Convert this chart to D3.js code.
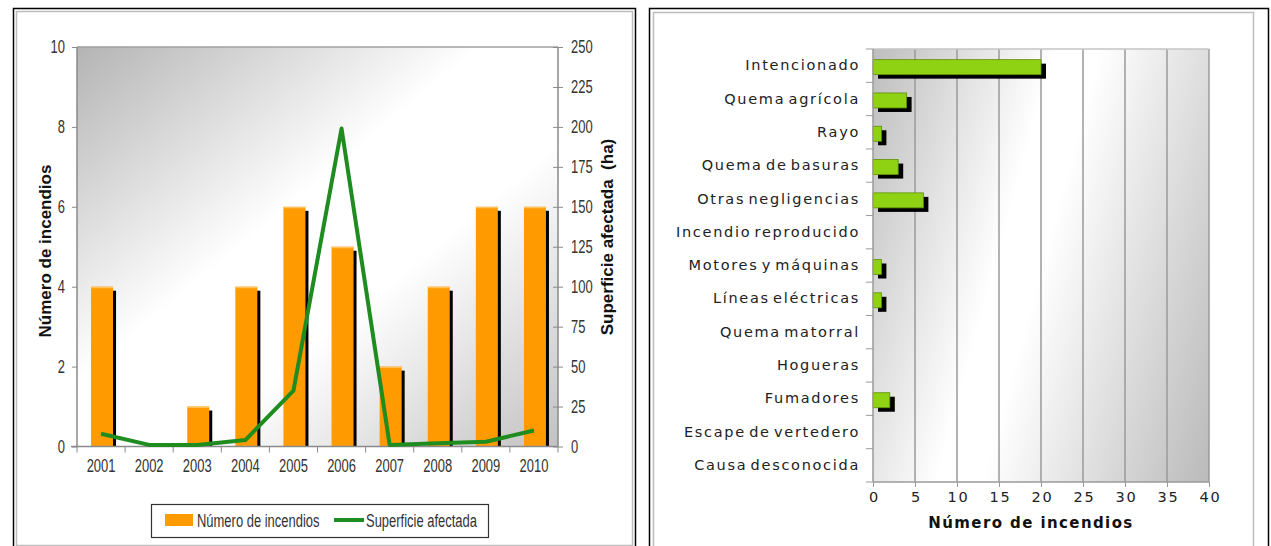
<!DOCTYPE html>
<meta charset="utf-8">
<style>
body { margin: 0; background: #fff; }
svg { display: block; }
.narrow { font-family: "Liberation Sans", Arial, sans-serif; }
.wide { font-family: "DejaVu Sans", Verdana, sans-serif; }
</style>
<svg width="1271" height="546"></svg>
<script src="https://d3js.org/d3.v7.min.js"></script>
<script>

// left chart data
var years = ["2001", "2002", "2003", "2004", "2005", "2006", "2007", "2008", "2009", "2010"];
var incendios = [4, 0, 1, 4, 6, 5, 2, 4, 6, 6];
var superficie = [8, 1, 1, 4, 35, 199, 1, 2, 3, 10];
var leftTicks = [0, 2, 4, 6, 8, 10];
var rightTicks = [0, 25, 50, 75, 100, 125, 150, 175, 200, 225, 250];

// right chart data
var causas = ["Intencionado", "Quema agrícola", "Rayo", "Quema de basuras", "Otras negligencias",
  "Incendio reproducido", "Motores y máquinas", "Líneas eléctricas", "Quema matorral",
  "Hogueras", "Fumadores", "Escape de vertedero", "Causa desconocida"];
var causasN = [20, 4, 1, 3, 6, 0, 1, 1, 0, 0, 2, 0, 0];
var xTicks = [0, 5, 10, 15, 20, 25, 30, 35, 40];

var svg = d3.select("svg");
var defs = svg.append("defs");

// no narrow face installed: squeeze the text instead
function squeeze(sel, k) {
  sel.each(function() {
    var len = this.getComputedTextLength();
    d3.select(this).attr("textLength", len * k).attr("lengthAdjust", "spacingAndGlyphs");
  });
}

// panel frames
function frame(x0, y0, x1, y1, gx0, gy0, gx1, gy1) {
  svg.append("rect").attr("x", x0 + 0.5).attr("y", y0 + 0.5)
    .attr("width", x1 - x0).attr("height", y1 - y0)
    .attr("fill", "none").attr("stroke", "#000").attr("stroke-width", 1.5);
  svg.append("rect").attr("x", gx0 + 0.5).attr("y", gy0 + 0.5)
    .attr("width", gx1 - gx0).attr("height", gy1 - gy0)
    .attr("fill", "none").attr("stroke", "#bdbdbd").attr("stroke-width", 1.5);
}
frame(13, 8, 635, 560, 16, 11, 632, 545);
frame(649, 8, 1268, 560, 653, 12, 1253, 560);

// ---------- left chart ----------
var L = {x0: 77, x1: 558, y0: 47, y1: 446.5};

var gl = defs.append("linearGradient").attr("id", "bgLeft")
  .attr("x1", 0).attr("y1", 0).attr("x2", 1).attr("y2", 1);
gl.append("stop").attr("offset", 0).attr("stop-color", "#b4b4b4");
gl.append("stop").attr("offset", 0.42).attr("stop-color", "#ffffff");
gl.append("stop").attr("offset", 0.62).attr("stop-color", "#ffffff");
gl.append("stop").attr("offset", 1).attr("stop-color", "#c2c2c2");

svg.append("rect").attr("x", L.x0).attr("y", L.y0)
  .attr("width", L.x1 - L.x0).attr("height", L.y1 - L.y0)
  .attr("fill", "url(#bgLeft)");

var x = d3.scaleBand().domain(years).range([L.x0, L.x1]);
var yL = d3.scaleLinear().domain([0, 10]).range([L.y1, L.y0]);
var yR = d3.scaleLinear().domain([0, 250]).range([L.y1, L.y0]);

var bars = svg.append("g");
years.forEach(function(yr, i) {
  if (!incendios[i]) return;
  var cx = x(yr) + x.bandwidth() / 2;
  bars.append("rect")
    .attr("x", cx - 7).attr("y", yL(incendios[i]) + 4)
    .attr("width", 22).attr("height", L.y1 - yL(incendios[i]) - 4)
    .attr("fill", "#000");
  bars.append("rect")
    .attr("x", cx - 10).attr("y", yL(incendios[i]))
    .attr("width", 22).attr("height", L.y1 - yL(incendios[i]))
    .attr("fill", "#ff9a00");
  bars.append("rect")
    .attr("x", cx - 10).attr("y", yL(incendios[i]))
    .attr("width", 22).attr("height", 1.5)
    .attr("fill", "#ffc060");
});

// top border
svg.append("line").attr("x1", L.x0).attr("x2", L.x1).attr("y1", L.y0).attr("y2", L.y0)
  .attr("stroke", "#a0a0a0").attr("stroke-width", 1.5);

// axes
var axL = svg.append("g").attr("transform", "translate(" + L.x0 + ",0)")
  .call(d3.axisLeft(yL).tickValues(leftTicks).tickSize(5).tickPadding(7));
var axR = svg.append("g").attr("transform", "translate(" + L.x1 + ",0)")
  .call(d3.axisRight(yR).tickValues(rightTicks).tickSize(5).tickPadding(8));
axR.selectAll(".tick line").attr("x1", -5);
var axB = svg.append("g").attr("transform", "translate(0," + L.y1 + ")")
  .call(d3.axisBottom(x).tickSize(0).tickPadding(13));
// boundary ticks between categories
var bounds = years.map(function(d) { return x(d); }).concat([L.x1]);
axB.selectAll(".bnd").data(bounds).enter().append("line")
  .attr("x1", function(d) { return d; }).attr("x2", function(d) { return d; })
  .attr("y1", 0).attr("y2", 6).attr("stroke", "#8a8a8a");

[axL, axR, axB].forEach(function(a) {
  a.selectAll(".domain").attr("stroke", "#8a8a8a").attr("stroke-width", 1.5);
  a.selectAll(".tick line").attr("stroke", "#8a8a8a");
  a.selectAll("text").attr("class", "narrow").attr("font-size", 18).attr("fill", "#333");
  squeeze(a.selectAll("text"), 0.72);
});
axL.select(".domain").attr("d", "M0," + L.y0 + "V" + L.y1);
axR.select(".domain").attr("d", "M0," + L.y0 + "V" + L.y1);
axB.select(".domain").attr("d", "M" + (L.x0 - 6) + ",0H" + L.x1);

// line
var line = d3.line()
  .x(function(d, i) { return x(years[i]) + x.bandwidth() / 2; })
  .y(function(d) { return yR(d); });
svg.append("path").datum(superficie)
  .attr("d", line).attr("fill", "none")
  .attr("stroke", "#1f8c1f").attr("stroke-width", 4).attr("stroke-linejoin", "round");

// axis titles
svg.append("text").attr("transform", "translate(51,251) rotate(-90)")
  .attr("text-anchor", "middle").attr("font-family", "Liberation Sans, Arial, sans-serif")
  .attr("font-weight", "bold").attr("font-size", 17).attr("fill", "#111")
  .text("Número de incendios");
svg.append("text").attr("transform", "translate(613,237) rotate(-90)")
  .attr("text-anchor", "middle").attr("font-family", "Liberation Sans, Arial, sans-serif")
  .attr("font-weight", "bold").attr("font-size", 17).attr("fill", "#111")
  .attr("xml:space", "preserve")
  .text("Superficie afectada  (ha)");

// legend
var lg = svg.append("g");
lg.append("rect").attr("x", 151.5).attr("y", 504.5).attr("width", 337).attr("height", 33)
  .attr("fill", "#fff").attr("stroke", "#333").attr("stroke-width", 1.2);
lg.append("rect").attr("x", 165).attr("y", 514).attr("width", 28).attr("height", 12).attr("fill", "#ff9a00");
lg.append("text").attr("class", "narrow").attr("x", 197).attr("y", 527)
  .attr("font-size", 18).attr("fill", "#333").text("Número de incendios");
lg.append("line").attr("x1", 334).attr("x2", 364).attr("y1", 520).attr("y2", 520)
  .attr("stroke", "#1f8c1f").attr("stroke-width", 4);
lg.append("text").attr("class", "narrow").attr("x", 366).attr("y", 527)
  .attr("font-size", 18).attr("fill", "#333").text("Superficie afectada");
squeeze(lg.selectAll("text"), 0.72);

// ---------- right chart ----------
var R = {x0: 873, x1: 1209, y0: 49, y1: 482};

var gr = defs.append("linearGradient").attr("id", "bgRight")
  .attr("gradientUnits", "userSpaceOnUse")
  .attr("x1", R.x0).attr("y1", R.y0).attr("x2", 1296).attr("y2", 164);
gr.append("stop").attr("offset", 0).attr("stop-color", "#bdbdbd");
gr.append("stop").attr("offset", 0.4).attr("stop-color", "#ffffff");
gr.append("stop").attr("offset", 0.5).attr("stop-color", "#ffffff");
gr.append("stop").attr("offset", 1).attr("stop-color", "#bababa");

svg.append("rect").attr("x", R.x0).attr("y", R.y0)
  .attr("width", R.x1 - R.x0).attr("height", R.y1 - R.y0)
  .attr("fill", "url(#bgRight)");

var xr = d3.scaleLinear().domain([0, 40]).range([R.x0, R.x1]);
var yc = d3.scaleBand().domain(causas).range([R.y0, R.y1]);

// gridlines
svg.append("g").selectAll("line").data(xTicks.slice(1)).enter().append("line")
  .attr("x1", xr).attr("x2", xr).attr("y1", R.y0).attr("y2", R.y1)
  .attr("stroke", "#9a9a9a").attr("stroke-width", 1.5);
svg.append("line").attr("x1", R.x0).attr("x2", R.x1).attr("y1", R.y0).attr("y2", R.y0)
  .attr("stroke", "#c4c4c4").attr("stroke-width", 1.5);

var hb = svg.append("g");
causas.forEach(function(c, i) {
  if (!causasN[i]) return;
  var cy = yc(c) + yc.bandwidth() / 2;
  hb.append("rect")
    .attr("x", R.x0 + 5).attr("y", cy - 2)
    .attr("width", xr(causasN[i]) - R.x0).attr("height", 15)
    .attr("fill", "#000");
  hb.append("rect")
    .attr("x", R.x0).attr("y", cy - 6)
    .attr("width", xr(causasN[i]) - R.x0).attr("height", 15)
    .attr("fill", "#8fd214").attr("stroke", "#5f8f00").attr("stroke-width", 0.8);
});

var axY = svg.append("g").attr("transform", "translate(" + R.x0 + ",0)")
  .call(d3.axisLeft(yc).tickSize(0).tickPadding(13));
var cb = causas.map(function(d) { return yc(d); }).concat([R.y1]);
axY.selectAll(".bnd").data(cb).enter().append("line")
  .attr("x1", -7).attr("x2", 0)
  .attr("y1", function(d) { return d; }).attr("y2", function(d) { return d; })
  .attr("stroke", "#9a9a9a");
var axX = svg.append("g").attr("transform", "translate(0," + R.y1 + ")")
  .call(d3.axisBottom(xr).tickValues(xTicks).tickSize(5).tickPadding(5));

[axY, axX].forEach(function(a) {
  a.selectAll(".domain").attr("stroke", "#9a9a9a").attr("stroke-width", 1.5);
  a.selectAll(".tick line").attr("stroke", "#9a9a9a");
  a.selectAll("text").attr("class", "wide").attr("font-size", 14.5).attr("fill", "#222")
    .style("letter-spacing", "1.7px").style("word-spacing", "-3px");
});
axY.select(".domain").attr("d", "M0," + R.y0 + "V" + R.y1);
axX.select(".domain").attr("d", "M" + R.x0 + ",0H" + R.x1);
axX.selectAll("text").attr("dx", "1px").attr("font-size", 14.5);

svg.append("text").attr("class", "wide").attr("x", 1031).attr("y", 528)
  .attr("text-anchor", "middle").attr("font-weight", "bold").attr("font-size", 15)
  .attr("fill", "#111").style("letter-spacing", "1.4px")
  .text("Número de incendios");

</script>
